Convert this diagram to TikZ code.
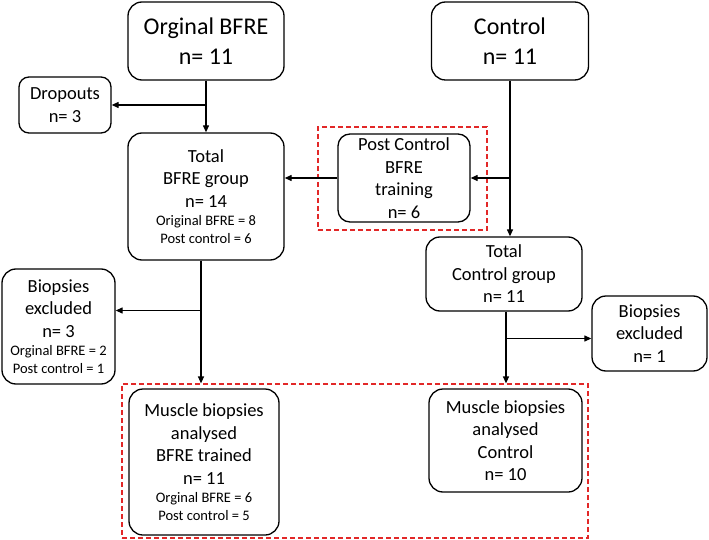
\documentclass[tikz,border=0pt]{standalone}
\usepackage{fontspec}
\setmainfont{Carlito}
\usetikzlibrary{arrows.meta}
\newcommand\smtxt{\fontsize{14.5}{18}\selectfont}
\definecolor{dashred}{RGB}{226,40,40}
\begin{document}
\begin{tikzpicture}[x=1pt,y=-1pt,
  box/.style={draw, line width=1.3pt, rounded corners=14pt, align=center, inner sep=0pt,
    font=\fontsize{18.5}{22.5}\selectfont},
  bigbox/.style={box, font=\fontsize{24}{30}\selectfont},
  smallbox/.style={box, rounded corners=10pt},
  redbox/.style={draw=dashred, line width=1.2pt, dash pattern=on 5pt off 3pt, inner sep=0pt},
  arr/.style={line width=1.2pt, -{Triangle[length=7pt,width=6pt]}}]
\useasboundingbox (0,0) rectangle (709,540);
\node[bigbox, minimum width=156, minimum height=78] (ob) at (206,41) {Orginal BFRE\\n= 11};
\node[bigbox, minimum width=157, minimum height=78] (ctl) at (510,41) {Control\\n= 11};
\node[smallbox, minimum width=92, minimum height=56] (drop) at (65,105) {Dropouts\\n= 3};
\node[box, minimum width=156, minimum height=127] (tb) at (206,196.5)
  {Total\\BFRE group\\n= 14\\[-4pt]{\smtxt Original BFRE = 8}\\[-5pt]{\smtxt Post control = 6}};
\node[redbox, minimum width=169, minimum height=103] (pcd) at (402.5,178.5) {};
\node[box, rounded corners=12pt, minimum width=132, minimum height=88] (pc) at (404,178)
  {Post Control\\BFRE\\training\\n= 6};
\node[box, minimum width=156, minimum height=74] (tc) at (504,274) {Total\\Control group\\n= 11};
\node[box, minimum width=113, minimum height=115] (bexl) at (58.5,326.5)
  {Biopsies\\excluded\\n= 3\\[-4pt]{\smtxt Orginal BFRE = 2}\\[-5pt]{\smtxt Post control = 1}};
\node[box, minimum width=115, minimum height=75] (bexr) at (649.5,333.5) {Biopsies\\excluded\\n= 1};
\node[redbox, minimum width=466, minimum height=154] (bd) at (355,461) {};
\node[box, minimum width=150, minimum height=146] (mb) at (204,462)
  {Muscle biopsies\\analysed\\BFRE trained\\n= 11\\[-4pt]{\smtxt Orginal BFRE = 6}\\[-5pt]{\smtxt Post control = 5}};
\node[box, minimum width=153, minimum height=103] (mc) at (505.5,440.5)
  {Muscle biopsies\\analysed\\Control\\n= 10};
% connectors
\draw[arr] (ob.south) -- (tb.north);
\draw[arr] (ob.south |- drop.east) -- (drop.east);
\draw[arr] (ctl.south) -- (ctl.south |- tc.north);
\draw[arr] (ctl.south |- pc.east) -- (pc.east);
\draw[arr] (pc.west) -- (pc.west -| tb.east);
\coordinate (tbo) at ([xshift=-5pt]tb.south);
\coordinate (bexlin) at ([yshift=16pt]bexl.east);
\draw[arr] (tbo) -- (tbo |- bd.north);
\draw[arr] (tbo |- bexlin) -- (bexlin);
\coordinate (tco) at ([xshift=2pt]tc.south);
\coordinate (bexrin) at ([yshift=-5pt]bexr.west);
\draw[arr] (tco) -- (tco |- bd.north);
\draw[arr] (tco |- bexrin) -- (bexrin);
\end{tikzpicture}
\end{document}
